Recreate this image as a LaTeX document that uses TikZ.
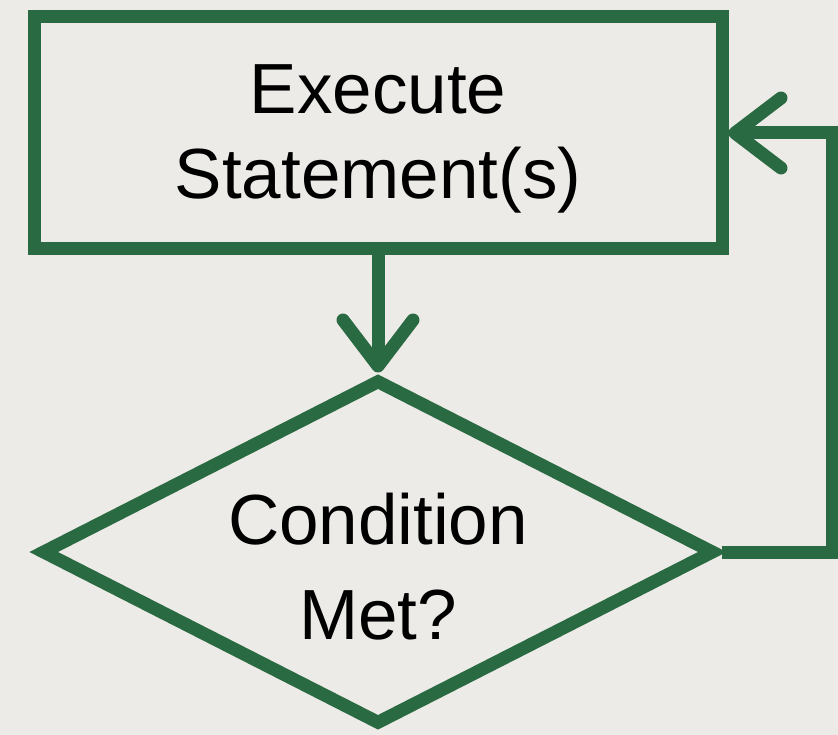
\documentclass[tikz,border=0pt]{standalone}
\usepackage{fontspec}
\setmainfont{Liberation Sans}
\usetikzlibrary{shapes.geometric,arrows.meta}
\definecolor{loopgreen}{HTML}{2A6A42}
\definecolor{paper}{HTML}{EDEBE7}

\begin{document}
\begin{tikzpicture}[x=1pt,y=-1pt,
    flowline/.style={draw=loopgreen,line width=13pt},
    flowarrow/.style={flowline,-{Straight Barb[length=46pt,width=70pt,round]}},
    flowtext/.style={font=\fontsize{71}{85}\selectfont,align=center,text=black}]
    \fill[paper] (0,0) rectangle (838,735);
    \useasboundingbox (0,0) rectangle (838,735);
    \node[flowline,rectangle,minimum width=688pt,minimum height=232pt,
        label={[flowtext,yshift=-6pt]center:{Execute\\Statement(s)}}] (exec) at (378,133) {};
    \node[flowline,diamond,minimum width=674pt,minimum height=346pt,inner sep=0pt,
        label={[flowtext,font=\fontsize{71}{95}\selectfont,yshift=-15pt]center:{Condition\\Met?}}] (cond) at (378,552) {};
    \coordinate (turn) at (832,133);
    \draw[flowarrow] (exec.south) -- (cond.north);
    \draw[flowarrow] (cond.east) -| (turn) -- (exec.east);
\end{tikzpicture}
\end{document}
